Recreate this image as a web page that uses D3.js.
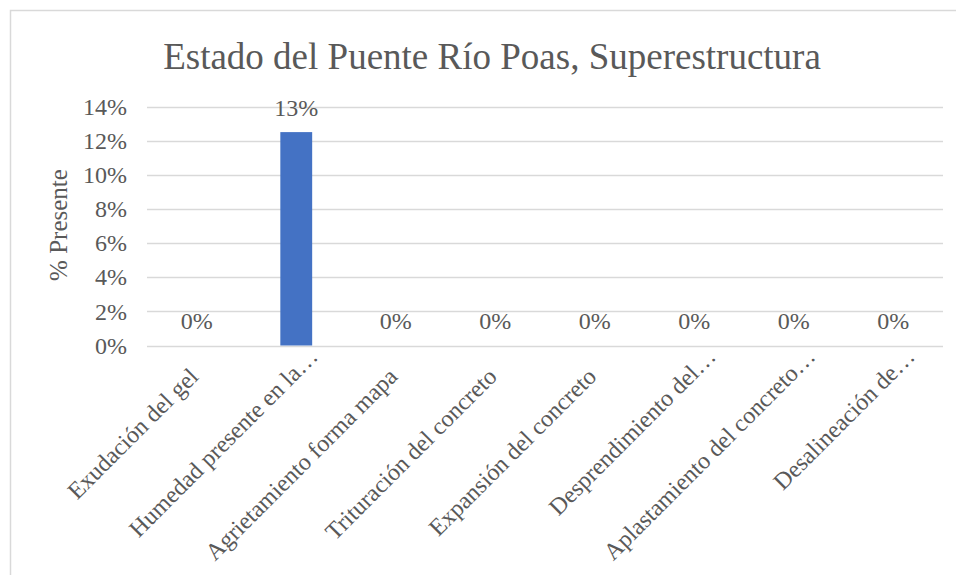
<!DOCTYPE html>
<html lang="es">
<head>
<meta charset="utf-8">
<title>Estado del Puente Río Poas, Superestructura</title>
<script src="https://cdn.jsdelivr.net/npm/d3@7"></script>
<style>
  body { margin: 0; background: #fff; }
</style>
</head>
<body>
<script>
// chart data
var categories = [
  "Exudación del gel",
  "Humedad presente en la…",
  "Agrietamiento forma mapa",
  "Trituración del concreto",
  "Expansión del concreto",
  "Desprendimiento del…",
  "Aplastamiento del concreto…",
  "Desalineación de…"
]
var values = [0, 0.125, 0, 0, 0, 0, 0, 0]
var yTicks = [0, 0.02, 0.04, 0.06, 0.08, 0.10, 0.12, 0.14]

var drawChart = function () {
  var w = 956, h = 575
  var plotLeft = 147, plotRight = 943, plotTop = 106.5, plotBottom = 345.5

  var svg = d3.select("body").append("svg")
    .attr("width", w)
    .attr("height", h)
    .attr("font-family", "'Liberation Serif', 'Times New Roman', Times, serif")
    .attr("fill", "#595959")

  // chart frame (runs off the right and bottom edge)
  svg.append("path")
    .attr("d", "M10.5," + h + "V10.5H" + w)
    .attr("fill", "none")
    .attr("stroke", "#d9d9d9")
    .attr("stroke-width", 1.5)

  var x = d3.scaleBand()
    .domain(categories)
    .range([plotLeft, plotRight])
    .paddingInner(0.68)
    .paddingOuter(0.34)

  var y = d3.scaleLinear()
    .domain([0, 0.14])
    .range([plotBottom, plotTop])

  var pct = d3.format(".0%")

  // gridlines
  svg.append("g")
    .selectAll("line")
    .data(yTicks)
    .enter().append("line")
    .attr("x1", plotLeft)
    .attr("x2", plotRight)
    .attr("y1", function (d) { return Math.round(y(d)) + 0.5 })
    .attr("y2", function (d) { return Math.round(y(d)) + 0.5 })
    .attr("stroke", "#d9d9d9")
    .attr("stroke-width", 1.5)

  // y tick labels
  svg.append("g")
    .selectAll("text")
    .data(yTicks)
    .enter().append("text")
    .attr("x", 127)
    .attr("y", function (d) { return y(d) })
    .attr("dy", "0.34em")
    .attr("text-anchor", "end")
    .attr("font-size", 24)
    .text(pct)

  // bars
  svg.append("g")
    .selectAll("rect")
    .data(values)
    .enter().append("rect")
    .attr("x", function (d, i) { return x(categories[i]) })
    .attr("width", x.bandwidth())
    .attr("y", function (d) { return y(d) })
    .attr("height", function (d) { return y(0) - y(d) })
    .attr("fill", "#4472c4")

  // value labels
  svg.append("g")
    .selectAll("text")
    .data(values)
    .enter().append("text")
    .attr("x", function (d, i) { return x(categories[i]) + x.bandwidth() / 2 })
    .attr("y", function (d) { return y(d) - 16.5 })
    .attr("text-anchor", "middle")
    .attr("font-size", 24)
    .text(pct)

  // category labels, rotated
  svg.append("g")
    .selectAll("text")
    .data(categories)
    .enter().append("text")
    .attr("transform", function (d) {
      var cx = x(d) + x.bandwidth() / 2
      // truncated labels sit a bit further along the diagonal
      var shift = d.slice(-1) == "…" ? 20 : 0
      return "translate(" + (cx + 3 + shift) + "," + (378 - shift) + ") rotate(-45)"
    })
    .attr("text-anchor", "end")
    .attr("font-size", 24)
    .text(function (d) { return d })

  // axis title
  svg.append("text")
    .attr("transform", "translate(67,225) rotate(-90)")
    .attr("text-anchor", "middle")
    .attr("font-size", 25)
    .text("% Presente")

  // chart title
  svg.append("text")
    .attr("x", 492)
    .attr("y", 69)
    .attr("text-anchor", "middle")
    .attr("font-size", 37)
    .text("Estado del Puente Río Poas, Superestructura")
}

drawChart()
</script>
</body>
</html>
